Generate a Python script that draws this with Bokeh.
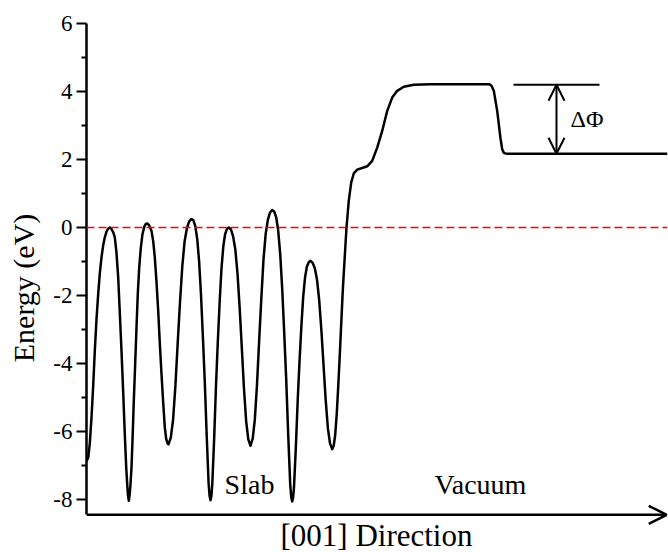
from bokeh.plotting import figure
from bokeh.models import Range1d, FixedTicker, Arrow, OpenHead, Span, Label
from bokeh.embed import file_html
from bokeh.resources import INLINE

# ---------------- data ----------------
position = [
    0.0, 0.17, 0.33, 0.5, 0.67, 0.83, 1.0, 1.17, 1.33, 1.5, 1.67, 1.83, 2.0, 2.17, 2.33,
    2.5, 2.67, 2.83, 3.0, 3.17, 3.33, 3.5, 3.67, 3.83, 3.97, 4.07, 4.15, 4.23,
    4.32, 4.4, 4.5, 4.62, 4.73, 4.87, 5.0, 5.13, 5.27, 5.43, 5.6, 5.8, 5.95, 6.07,
    6.25, 6.5, 6.67, 6.83, 7.0, 7.17, 7.33, 7.5, 7.67, 7.83, 7.97, 8.1, 8.2,
    8.43, 8.66, 8.89, 9.12, 9.35, 9.58, 9.81, 10.04, 10.27, 10.5,
    10.69, 10.88, 11.07, 11.26, 11.45, 11.64, 11.83, 12.02, 12.21, 12.31, 12.4,
    12.49, 12.58, 12.77, 12.95, 13.13, 13.32, 13.5, 13.68, 13.86, 14.05, 14.23,
    14.45, 14.66, 14.88, 15.1, 15.32, 15.53, 15.75, 15.97, 16.18, 16.4,
    16.62, 16.83, 17.05, 17.27, 17.49, 17.7, 17.92, 18.14, 18.35, 18.57,
    18.77, 18.97, 19.17, 19.37, 19.57, 19.77, 19.97, 20.17, 20.37, 20.47, 20.57,
    20.66, 20.75, 20.94, 21.12, 21.3, 21.49, 21.67, 21.85, 22.03, 22.22, 22.4,
    22.62, 22.83, 23.05, 23.27, 23.49, 23.7, 23.92, 24.14, 24.35, 24.57,
    24.72, 24.87, 25.02, 25.17, 25.32, 25.47, 25.62, 25.8, 26.0, 26.23, 26.47,
    26.73, 27.07, 27.57, 28.07, 28.57, 29.07, 29.57, 30.07, 30.57, 31.07, 31.73,
    32.73, 34.4, 40.3, 40.5, 40.73, 41.07, 41.4, 41.57, 41.7, 41.85, 42.1, 58.1,
]
energy = [
    -6.87, -6.78, -6.35, -5.59, -4.65, -3.63, -2.7, -1.96, -1.35, -0.88, -0.52, -0.29, -0.12, -0.03, 0.0,
    -0.05, -0.14, -0.29, -0.75, -1.47, -2.5, -3.63, -4.85, -6.08, -7.05, -7.55, -7.88, -8.04,
    -7.85, -7.55, -7.06, -6.1, -5.1, -4.0, -2.94, -1.95, -1.18, -0.6, -0.19, 0.04, 0.11, 0.12,
    0.07, -0.1, -0.4, -0.88, -1.6, -2.45, -3.4, -4.31, -5.15, -5.88, -6.22, -6.35, -6.38,
    -6.18, -5.65, -4.66, -3.4, -2.2, -1.14, -0.41, -0.02, 0.18, 0.25,
    0.21, 0.04, -0.33, -0.99, -1.98, -3.22, -4.55, -6.12, -7.52, -7.9, -8.02,
    -7.9, -7.54, -6.18, -4.65, -3.37, -2.17, -1.2, -0.56, -0.2, -0.04, 0.0,
    -0.06, -0.26, -0.64, -1.35, -2.38, -3.53, -4.75, -5.71, -6.23, -6.42,
    -6.21, -5.66, -4.62, -3.3, -2.05, -0.94, -0.18, 0.23, 0.44, 0.51,
    0.47, 0.3, -0.09, -0.78, -1.8, -3.09, -4.46, -6.09, -7.55, -7.93, -8.06,
    -7.95, -7.64, -6.43, -5.09, -3.95, -2.89, -2.04, -1.48, -1.16, -1.02, -0.98,
    -1.04, -1.2, -1.53, -2.14, -3.03, -4.03, -5.08, -5.91, -6.35, -6.52,
    -6.42, -6.1, -5.5, -4.7, -3.8, -2.85, -1.9, -0.98, 0.0, 0.79, 1.32,
    1.59, 1.7, 1.75, 1.8, 1.96, 2.35, 2.84, 3.43, 3.82, 4.02, 4.14,
    4.2, 4.21, 4.21, 4.17, 4.02, 3.43, 2.62, 2.3, 2.21, 2.18, 2.17, 2.17,
]

fermi_level = 0.0
dphi_top_x = [42.7, 51.3]
dphi_top_y = [4.2, 4.2]
dphi_arrow_x = 47.0
dphi_high = 4.2
dphi_low = 2.17

y_major = [-8, -6, -4, -2, 0, 2, 4, 6]
y_minor = [-7, -5, -3, -1, 1, 3, 5]
y_labels = {v: str(v) for v in y_major}

x_min, x_max = 0.0, 58.1
axis_bottom, y_top = -8.45, 6.0
y_frame_min = -9.56

FONT = "Liberation Serif"

p = figure(width=668, height=552, output_backend="svg", toolbar_location=None,
           x_range=Range1d(x_min, x_max), y_range=Range1d(y_frame_min, y_top),
           min_border_left=86, min_border_right=1, min_border_top=23,
           min_border_bottom=0, background_fill_color="white")
p.outline_line_color = None
p.grid.visible = False
p.xaxis.visible = False

# y axis
ya = p.yaxis[0]
ya.bounds = (axis_bottom, y_top)
ya.ticker = FixedTicker(ticks=y_major, minor_ticks=y_minor)
ya.major_label_overrides = y_labels
ya.axis_line_width = 2.5
ya.axis_line_color = "black"
ya.major_tick_line_width = 2
ya.minor_tick_line_width = 2
ya.major_tick_out = 10
ya.major_tick_in = 0
ya.minor_tick_out = 5
ya.minor_tick_in = 0
ya.major_label_standoff = 4
ya.major_label_text_font = FONT
ya.major_label_text_font_size = "23px"
ya.major_label_text_color = "black"
ya.axis_label = "Energy (eV)"
ya.axis_label_text_font = FONT
ya.axis_label_text_font_size = "30px"
ya.axis_label_text_font_style = "normal"
ya.axis_label_text_color = "black"
ya.axis_label_standoff = 10

# x axis drawn as an arrow
p.add_layout(Arrow(end=OpenHead(size=18, line_width=2.5, line_color="black"),
                   x_start=x_min, y_start=axis_bottom, x_end=x_max - 0.08, y_end=axis_bottom,
                   line_width=2.5, line_color="black"))
p.add_layout(Label(x=29.0, y=axis_bottom, y_offset=-21, text="[001] Direction",
                   text_font=FONT, text_font_size="31px", text_align="center",
                   text_baseline="alphabetic", text_color="black"))

# Fermi level
p.add_layout(Span(location=fermi_level, dimension="width", line_color="red",
                  line_width=1.5, line_dash="8 4"))

# potential curve
p.line(position, energy, line_color="black", line_width=2.5, line_join="round")

# delta phi annotation
p.line(dphi_top_x, dphi_top_y, line_color="black", line_width=2)
p.add_layout(Arrow(start=OpenHead(size=16, line_width=2, line_color="black"),
                   end=OpenHead(size=16, line_width=2, line_color="black"),
                   x_start=dphi_arrow_x, y_start=dphi_high,
                   x_end=dphi_arrow_x, y_end=dphi_low,
                   line_width=2, line_color="black"))

p.add_layout(Label(x=48.4, y=3.2, text="ΔΦ", text_font=FONT, text_font_size="24px",
                   text_align="left", text_baseline="alphabetic", text_color="black"))
p.add_layout(Label(x=16.3, y=-7.55, text="Slab", text_font=FONT, text_font_size="28px",
                   text_align="center", text_baseline="alphabetic", text_color="black"))
p.add_layout(Label(x=39.4, y=-7.55, text="Vacuum", text_font=FONT, text_font_size="28px",
                   text_align="center", text_baseline="alphabetic", text_color="black"))

open("out.html", "w").write(file_html(p, INLINE))
